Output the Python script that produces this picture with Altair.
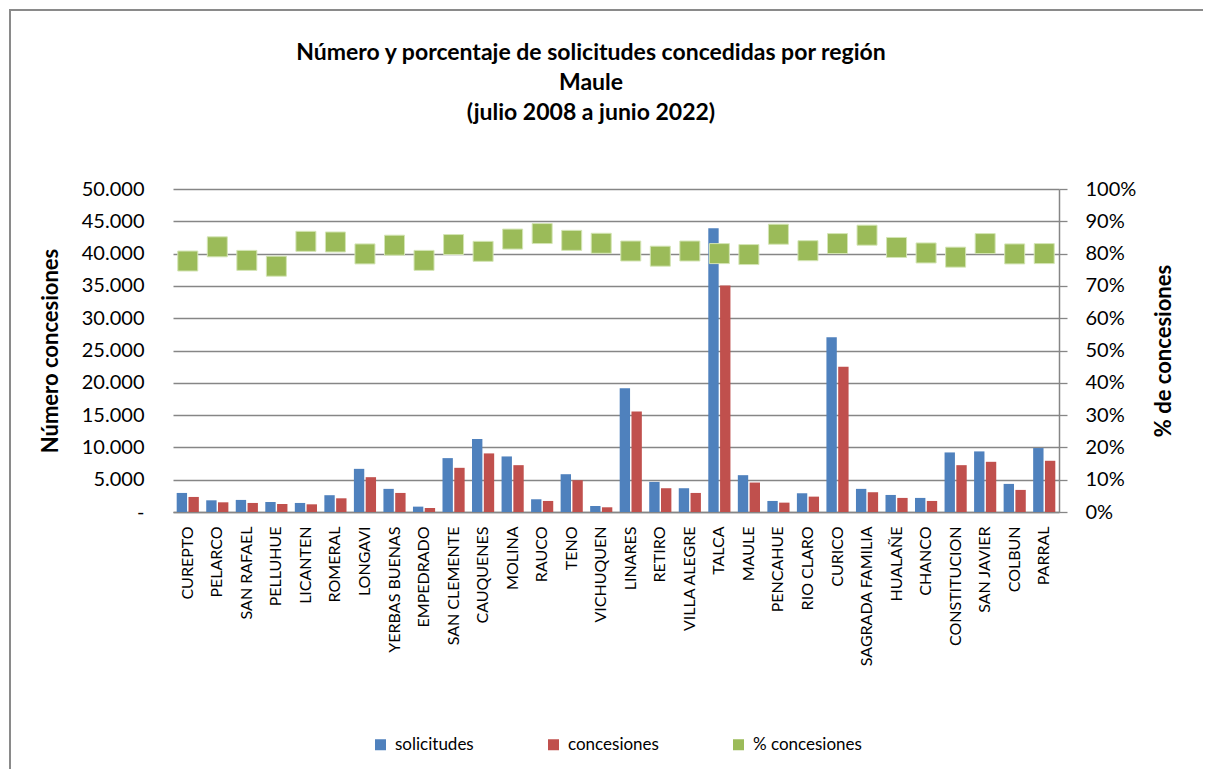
import altair as alt
import pandas as pd

regions = ["CUREPTO", "PELARCO", "SAN RAFAEL", "PELLUHUE", "LICANTEN", "ROMERAL", "LONGAVI",
           "YERBAS BUENAS", "EMPEDRADO", "SAN CLEMENTE", "CAUQUENES", "MOLINA", "RAUCO", "TENO",
           "VICHUQUEN", "LINARES", "RETIRO", "VILLA ALEGRE", "TALCA", "MAULE", "PENCAHUE",
           "RIO CLARO", "CURICO", "SAGRADA FAMILIA", "HUALAÑE", "CHANCO", "CONSTITUCION",
           "SAN JAVIER", "COLBUN", "PARRAL"]
solicitudes = [2950, 1810, 1870, 1550, 1400, 2600, 6680, 3580, 830, 8340, 11300, 8600, 1970, 5850,
               930, 19170, 4660, 3680, 43940, 5700, 1710, 2900, 27050, 3580, 2640, 2180, 9220,
               9380, 4350, 9900]
concesiones = [2330, 1500, 1400, 1240, 1190, 2120, 5390, 2950, 620, 6840, 9070, 7250, 1710, 4920,
               730, 15540, 3680, 2950, 35080, 4560, 1450, 2380, 22490, 3060, 2180, 1710, 7250,
               7770, 3420, 7930]
pct_concesiones = [77.7, 82.1, 77.9, 76.1, 83.8, 83.6, 79.9, 82.6, 77.9, 82.8, 80.7, 84.5, 86.2,
                   84.1, 83.2, 80.8, 79.2, 80.8, 80.0, 79.7, 86.0, 80.9, 83.1, 85.7, 81.9, 80.2,
                   78.9, 83.1, 79.9, 80.0]
series = ["solicitudes", "concesiones", "% concesiones"]
colors = ["#4F81BD", "#C0504D", "#9BBB59"]
title_lines = ["Número y porcentaje de solicitudes concedidas por región", "Maule",
               "(julio 2008 a junio 2022)"]

FONT = "Lato"
GRID = "#868686"
W, H = 886, 323

bars_df = pd.DataFrame(
    [{"region": r, "serie": series[0], "valor": s} for r, s in zip(regions, solicitudes)]
    + [{"region": r, "serie": series[1], "valor": c} for r, c in zip(regions, concesiones)]
)
pct_df = pd.DataFrame({"region": regions, "pct": [p / 100 for p in pct_concesiones],
                       "serie": series[2]})

color = alt.Color(
    "serie:N",
    scale=alt.Scale(domain=series, range=colors),
    legend=alt.Legend(
        title=None, orient="none", direction="horizontal", legendX=199, legendY=547,
        symbolType="square", symbolSize=121, symbolStrokeWidth=0, labelFontSize=17,
        labelFont=FONT, labelColor="#000000", columnPadding=71, labelOffset=6,
    ),
)

xenc = alt.X(
    "region:N", sort=regions, title=None,
    scale=alt.Scale(paddingInner=0.25, paddingOuter=0.125),
    axis=alt.Axis(labelAngle=270, labelFontSize=16, labelColor="#000000", labelPadding=14,
                  ticks=False, domainColor=GRID, domainWidth=1.5, labelLimit=200),
)

bars = alt.Chart(bars_df).mark_bar().encode(
    x=xenc,
    xOffset=alt.XOffset("serie:N", sort=series[:2], scale=alt.Scale(paddingInner=0.12)),
    y=alt.Y(
        "valor:Q", scale=alt.Scale(domain=[0, 50000]),
        axis=alt.Axis(
            title="Número concesiones", values=list(range(0, 50001, 5000)),
            labelExpr="datum.value == 0 ? '-\u00a0\u00a0\u00a0' : format(datum.value / 1000, 'd') + '.000'",
            labelFontSize=20, labelColor="#000000", labelPadding=29, ticks=False, domain=False,
            grid=True, gridColor=GRID, gridWidth=1.3, titleFontSize=22, titleFontWeight="bold",
            titleColor="#000000", titlePadding=19,
        ),
    ),
    color=color,
)

squares = alt.Chart(pct_df).mark_square(size=400, opacity=1, stroke="#d4e5b5",
                                        strokeWidth=1).encode(
    x=alt.X("region:N", sort=regions),
    y=alt.Y(
        "pct:Q", scale=alt.Scale(domain=[0, 1]),
        axis=alt.Axis(
            orient="right", title="% de concesiones", format=".0%",
            values=[i / 10 for i in range(11)], labelFontSize=20, labelColor="#000000",
            labelPadding=18, tickSize=8, tickColor=GRID, tickWidth=1.3, domainColor=GRID,
            domainWidth=1.5, grid=False, titleFontSize=22, titleFontWeight="bold",
            titleColor="#000000", titleAngle=270, titlePadding=40,
        ),
    ),
    color=color,
)

one = pd.DataFrame({"k": [0]})
border_left = alt.Chart(one).mark_rule(color="#8a8a8a", strokeWidth=2).encode(
    x=alt.value(-163), y=alt.value(-180), y2=alt.value(580))
border_top = alt.Chart(one).mark_rule(color="#8a8a8a", strokeWidth=2).encode(
    x=alt.value(-164), x2=alt.value(1030), y=alt.value(-179))

title_layers = []
for i, line in enumerate(title_lines):
    tdf = pd.DataFrame({"t": [line]})
    title_layers.append(
        alt.Chart(tdf).mark_text(font=FONT, fontSize=23, fontWeight="bold", color="#000000",
                                 align="center", baseline="middle").encode(
            text="t:N", x=alt.value(418), y=alt.value(-136 + 30 * i))
    )

chart = alt.layer(border_left, border_top, *title_layers, bars, squares).resolve_scale(
    y="independent"
).properties(
    width=W, height=H, padding=0,
).configure(font=FONT).configure_view(stroke=None)

chart.save("out.html", embed_options={"renderer": "svg", "actions": False})
